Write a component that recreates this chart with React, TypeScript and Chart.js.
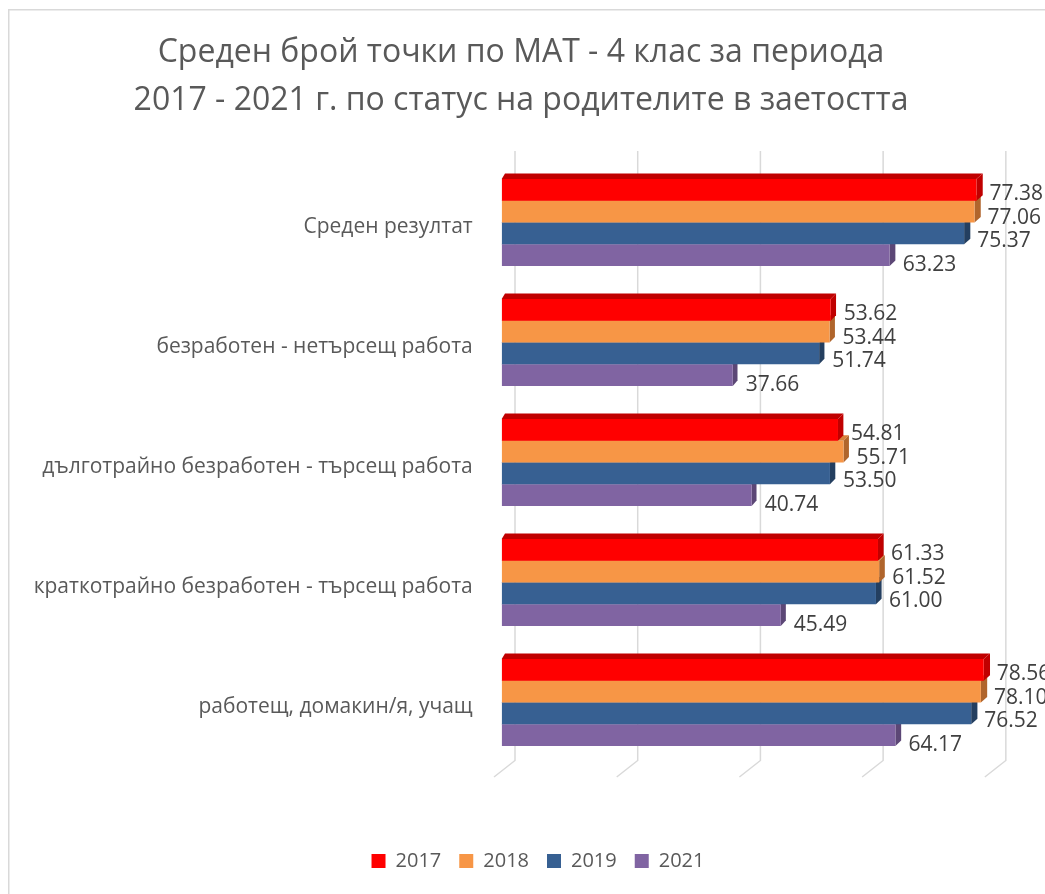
import React, { useEffect, useRef } from 'react';
import { Chart, registerables } from 'chart.js';

Chart.register(...registerables);

const TITLE_LINES = [
  'Среден брой точки по МАТ - 4 клас за периода',
  '2017 - 2021 г. по статус на родителите в заетостта',
];
const CATEGORIES = [
  'Среден резултат',
  'безработен - нетърсещ работа',
  'дълготрайно безработен - търсещ работа',
  'краткотрайно безработен - търсещ работа',
  'работещ, домакин/я, учащ',
];
const SERIES_NAMES = ['2017', '2018', '2019', '2021'];
const VALUES_2017 = [77.38, 53.62, 54.81, 61.33, 78.56];
const VALUES_2018 = [77.06, 53.44, 55.71, 61.52, 78.1];
const VALUES_2019 = [75.37, 51.74, 53.5, 61.0, 76.52];
const VALUES_2021 = [63.23, 37.66, 40.74, 45.49, 64.17];
const SERIES_VALUES = [VALUES_2017, VALUES_2018, VALUES_2019, VALUES_2021];

const FRONT = ['#FF0000', '#F79646', '#376092', '#8064A2'];
const SIDE = ['#C00000', '#B0652C', '#243F60', '#5C4776'];
const TOPC = ['#C00000', '#D9803A', '#2D5180', '#6B5390'];

const FONT = 'Open Sans';
const X_MAX = 92.3;

const bars3d = {
  id: 'bars3d',
  beforeDraw(chart: any) {
    const { ctx, width } = chart;
    ctx.save();
    ctx.strokeStyle = '#D9D9D9';
    ctx.lineWidth = 1.5;
    ctx.beginPath();
    ctx.moveTo(0.75, chart.height);
    ctx.lineTo(0.75, 1.8);
    ctx.lineTo(width, 1.8);
    ctx.stroke();
    ctx.fillStyle = '#595959';
    ctx.font = `32px "${FONT}"`;
    ctx.textAlign = 'center';
    ctx.textBaseline = 'middle';
    TITLE_LINES.forEach((line, i) => ctx.fillText(line, 513, 45 + i * 48));
    ctx.restore();
  },
  beforeDatasetsDraw(chart: any) {
    const { ctx, chartArea, scales } = chart;
    const xs = scales.x;
    ctx.save();
    ctx.strokeStyle = '#D9D9D9';
    ctx.lineWidth = 1.5;
    xs.ticks.forEach((t: any) => {
      if (t.value % 20 !== 0) return;
      const xb = xs.getPixelForValue(t.value) + 13.3;
      ctx.beginPath();
      ctx.moveTo(xb, chartArea.top - 11.5);
      ctx.lineTo(xb, chartArea.bottom - 2);
      ctx.lineTo(xb - 21, chartArea.bottom + 14.5);
      ctx.stroke();
    });
    const n = chart.data.datasets.length;
    for (let d = n - 1; d >= 0; d--) {
      const meta = chart.getDatasetMeta(d);
      meta.data.forEach((el: any) => {
        const { x, y, base, height } = el.getProps(['x', 'y', 'base', 'height'], true);
        const top = y - height / 2;
        const bot = y + height / 2;
        const dy = 5.5;
        const dxL = 3.3;
        const dxR = 3.3 + (3 * (x - base)) / 480;
        ctx.fillStyle = TOPC[d];
        ctx.beginPath();
        ctx.moveTo(base, top);
        ctx.lineTo(base + dxL, top - dy);
        ctx.lineTo(x + dxR, top - dy);
        ctx.lineTo(x, top);
        ctx.closePath();
        ctx.fill();
        ctx.fillStyle = SIDE[d];
        ctx.beginPath();
        ctx.moveTo(x, top);
        ctx.lineTo(x + dxR, top - dy);
        ctx.lineTo(x + dxR, bot - dy);
        ctx.lineTo(x, bot);
        ctx.closePath();
        ctx.fill();
      });
    }
    ctx.restore();
  },
  afterDatasetsDraw(chart: any) {
    const { ctx } = chart;
    ctx.save();
    ctx.font = `21px "${FONT}"`;
    ctx.fillStyle = '#404040';
    ctx.textAlign = 'left';
    ctx.textBaseline = 'middle';
    chart.data.datasets.forEach((ds: any, d: number) => {
      const meta = chart.getDatasetMeta(d);
      meta.data.forEach((el: any, i: number) => {
        ctx.fillText(Number(ds.data[i]).toFixed(2), el.x + 13, el.y + 4 + d * 2);
      });
    });
    ctx.restore();
  },
};

export default function App() {
  const ref = useRef<HTMLCanvasElement | null>(null);
  useEffect(() => {
    if (!ref.current) return;
    const chart = new Chart(ref.current, {
      type: 'bar',
      data: {
        labels: CATEGORIES,
        datasets: SERIES_NAMES.map((name, i) => ({
          label: name,
          data: SERIES_VALUES[i],
          backgroundColor: FRONT[i],
          borderWidth: 0,
          categoryPercentage: 0.725,
          barPercentage: 1,
        })),
      },
      options: {
        indexAxis: 'y',
        responsive: false,
        animation: false,
        layout: { padding: { top: 154.5, bottom: 13, left: 0, right: 0 } },
        scales: {
          x: {
            min: 0,
            max: X_MAX,
            ticks: { display: false, stepSize: 20 },
            grid: { display: false, drawTicks: false },
            border: { display: false },
            afterFit(scale: any) {
              scale.height = 70.5;
            },
          },
          y: {
            grid: { display: false, drawTicks: false },
            border: { display: false },
            ticks: {
              color: '#595959',
              font: { family: FONT, size: 21 },
              padding: 29,
              labelOffset: 5,
              autoSkip: false,
            },
            afterFit(scale: any) {
              scale.width = 493.7;
            },
          },
        },
        plugins: {
          title: { display: false },
          tooltip: { enabled: false },
          legend: {
            position: 'bottom',
            labels: {
              boxWidth: 14,
              boxHeight: 14,
              padding: 18,
              color: '#595959',
              font: { family: FONT, size: 20 },
            },
          },
        },
      },
      plugins: [bars3d],
    } as any);
    return () => chart.destroy();
  }, []);
  return (
    <div
      style={{
        position: 'fixed',
        left: 8,
        top: 8,
        width: 1037,
        height: 886,
        overflow: 'hidden',
        background: '#fff',
      }}
    >
      <canvas ref={ref} width={1060} height={886} style={{ display: 'block' }} />
    </div>
  );
}
